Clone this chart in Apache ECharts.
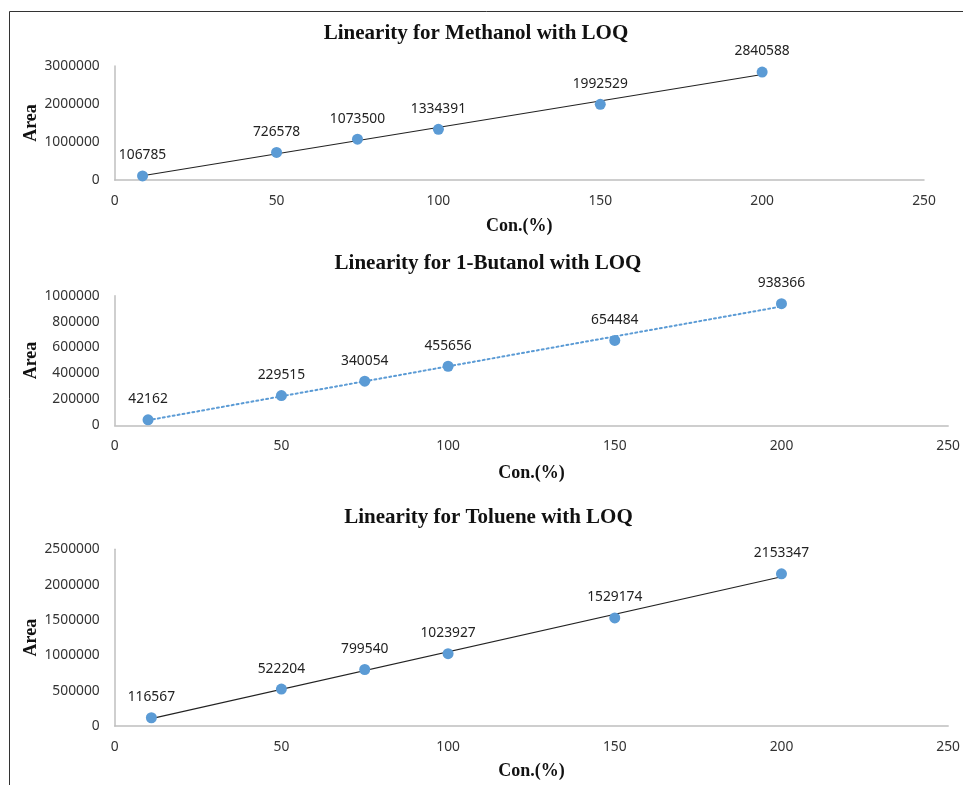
<!DOCTYPE html>
<html>
<head>
<meta charset="utf-8">
<script src="https://cdn.jsdelivr.net/npm/echarts@6/dist/echarts.min.js"></script>
<style>html,body{margin:0;padding:0;background:#fff}#c{width:963px;height:785px}</style>
</head>
<body>
<div id="c"></div>
<script>
const titles = ['Linearity for Methanol with LOQ', 'Linearity for 1-Butanol with LOQ', 'Linearity for Toluene with LOQ'];
const methanolConc = [8.6, 50, 75, 100, 150, 200];
const methanolArea = [106785, 726578, 1073500, 1334391, 1992529, 2840588];
const butanolConc = [10, 50, 75, 100, 150, 200];
const butanolArea = [42162, 229515, 340054, 455656, 654484, 938366];
const tolueneConc = [11, 50, 75, 100, 150, 200];
const tolueneArea = [116567, 522204, 799540, 1023927, 1529174, 2153347];
const xMax = 250, xStep = 50;
const yMaxes = [3000000, 1000000, 2500000];
const ySteps = [1000000, 200000, 500000];
const xName = 'Con.(%)';
const yName = 'Area';

const sets = [[methanolConc, methanolArea], [butanolConc, butanolArea], [tolueneConc, tolueneArea]];

function fit(xs, ys) {
  const n = xs.length;
  const mx = xs.reduce((a, b) => a + b, 0) / n;
  const my = ys.reduce((a, b) => a + b, 0) / n;
  let sxy = 0, sxx = 0;
  for (let i = 0; i < n; i++) { sxy += (xs[i] - mx) * (ys[i] - my); sxx += (xs[i] - mx) ** 2; }
  const b = sxy / sxx, a = my - b * mx;
  const x0 = Math.min(...xs), x1 = Math.max(...xs);
  return [[x0, a + b * x0], [x1, a + b * x1]];
}

const grids = [
  { left: 114.7, right: 39, top: 66, height: 114 },
  { left: 114.7, right: 13, top: 295.7, height: 129.6 },
  { left: 114.7, right: 11.3, top: 549.3, height: 176.7 }
];
const nameGaps = [37, 39, 36];
const titlePos = [[476, 33.5], [488, 263.5], [488.5, 517.5]];
const tickFont = { fontFamily: 'Noto Sans', fontSize: 13.8, color: '#333333' };
const nameFont = { fontFamily: 'Liberation Serif', fontWeight: 'bold', fontSize: 18, color: '#111' };

const xAxis = [], yAxis = [], series = [], graphic = [];
graphic.push({ type: 'rect', shape: { x: 9.5, y: 11.5, width: 1000, height: 1000 }, style: { fill: 'none', stroke: '#333', lineWidth: 1 }, silent: true });

for (let i = 0; i < 3; i++) {
  xAxis.push({
    type: 'value', gridIndex: i, min: 0, max: xMax, interval: xStep,
    name: xName, nameLocation: 'middle', nameGap: nameGaps[i], nameMoveOverlap: false,
    nameTextStyle: nameFont,
    axisLine: { show: true, lineStyle: { color: '#bfbfbf', width: 1.5 } },
    axisTick: { show: false }, splitLine: { show: false },
    axisLabel: Object.assign({ margin: 14 }, tickFont)
  });
  yAxis.push({
    type: 'value', gridIndex: i, min: 0, max: yMaxes[i], interval: ySteps[i],
    name: yName, nameLocation: 'middle', nameGap: 74, nameRotate: 90, nameMoveOverlap: false,
    nameTextStyle: nameFont,
    axisLine: { show: true, lineStyle: { color: '#bfbfbf', width: 1.5 } },
    axisTick: { show: false }, splitLine: { show: false },
    axisLabel: Object.assign({ margin: 15, formatter: v => String(v) }, tickFont)
  });
  const [xs, ys] = sets[i];
  series.push({
    type: 'line', xAxisIndex: i, yAxisIndex: i, data: fit(xs, ys), showSymbol: false, silent: true,
    lineStyle: i === 1 ? { color: '#5b9bd5', width: 2, type: [2, 3], cap: 'round' } : { color: '#222', width: 1.1 },
    z: 1
  });
  series.push({
    type: 'scatter', xAxisIndex: i, yAxisIndex: i, symbolSize: 11,
    data: xs.map((x, k) => [x, ys[k]]),
    itemStyle: { color: '#5b9bd5', opacity: 1 },
    label: { show: true, position: 'top', distance: 8, formatter: p => String(p.value[1]), fontFamily: 'Noto Sans', fontSize: 13.8, color: '#222' },
    z: 3
  });
  graphic.push({ type: 'text', x: titlePos[i][0], y: titlePos[i][1], style: { text: titles[i], font: 'bold 21px "Liberation Serif"', fill: '#111', textAlign: 'center', textVerticalAlign: 'middle' } });
}

const chart = echarts.init(document.getElementById('c'));
chart.setOption({ animation: false, grid: grids, xAxis, yAxis, series, graphic });
</script>
</body>
</html>
